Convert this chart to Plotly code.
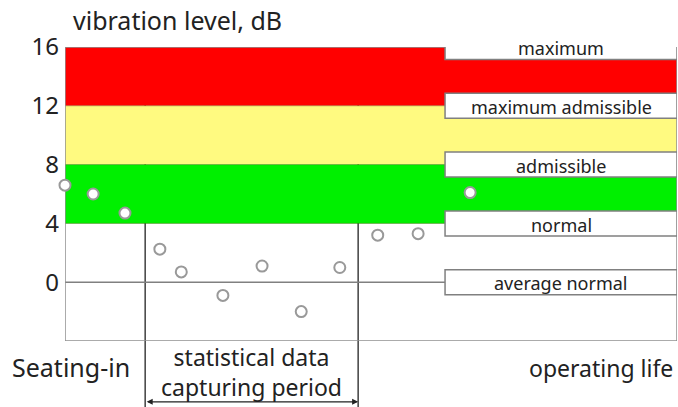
import plotly.graph_objects as go

# Data
time_pts = [0.0, 4.6, 9.8, 15.5, 19.0, 25.8, 32.2, 38.6, 44.9, 51.1, 57.7, 66.2]
vib_db = [6.6, 6.0, 4.7, 2.25, 0.7, -0.9, 1.1, -2.0, 1.0, 3.2, 3.3, 6.1]
level_values = [16, 12, 8, 4, 0]
level_labels = ["maximum", "maximum admissible", "admissible", "normal", "average normal"]
band_ranges = [(12, 16), (8, 12), (4, 8)]
band_colors = ["#ff0000", "#fffa80", "#00f000"]
tick_vals = [0, 4, 8, 12, 16]
tick_text = ["0", "4", "8", "12", "16"]
period_bounds = [13.1, 47.9]

FONT = "Noto Sans"
fig = go.Figure()

shapes = []
for (y0, y1), c in zip(band_ranges, band_colors):
    shapes.append(dict(type="rect", xref="x", yref="y", x0=0, x1=100, y0=y0, y1=y1,
                       fillcolor=c, line=dict(width=0), layer="below"))
for yv in [12, 8, 4]:
    shapes.append(dict(type="line", xref="x", yref="y", x0=0, x1=100, y0=yv, y1=yv,
                       line=dict(color="rgba(80,60,0,0.35)", width=1), layer="below"))
# zero line
shapes.append(dict(type="line", xref="x", yref="y", x0=0, x1=62.1, y0=0, y1=0,
                   line=dict(color="#808080", width=1.5), layer="below"))
# border
shapes.append(dict(type="rect", xref="x", yref="y", x0=0, x1=100, y0=-4, y1=16,
                   line=dict(color="#909090", width=1.5), layer="below"))
# period vertical lines
for xv in period_bounds:
    shapes.append(dict(type="line", xref="x", yref="paper", x0=xv, x1=xv, y0=-0.23, y1=1,
                       line=dict(color="#404040", width=1.5), layer="below"))
# label boxes
for yv in level_values:
    shapes.append(dict(type="rect", xref="x", yref="y", x0=62.1, x1=100, y0=yv - 0.85, y1=yv + 0.85,
                       fillcolor="white", line=dict(color="#808080", width=1.5), layer="above"))
fig.update_layout(shapes=shapes)

fig.add_trace(go.Scatter(x=time_pts, y=vib_db, mode="markers", cliponaxis=False,
                         marker=dict(size=11, color="white", line=dict(color="#999999", width=2)),
                         showlegend=False, hoverinfo="skip"))

TXT = "#222"
ann = []
for yv, lab in zip(level_values, level_labels):
    ann.append(dict(x=81.05, y=yv - 0.08, xref="x", yref="y", text=lab, showarrow=False,
                    font=dict(family=FONT, size=18, color=TXT)))
ann.append(dict(x=-0.0899, y=-0.088, xref="paper", yref="paper", xanchor="left", yanchor="middle",
                text="Seating-in", showarrow=False, font=dict(family=FONT, size=25, color=TXT)))
ann.append(dict(x=0.304, y=-0.105, xref="paper", yref="paper", xanchor="center", yanchor="middle",
                text="statistical data<br>capturing period", showarrow=False,
                font=dict(family=FONT, size=23, color=TXT)))
ann.append(dict(x=0.997, y=-0.092, xref="paper", yref="paper", xanchor="right", yanchor="middle",
                text="operating life", showarrow=False, font=dict(family=FONT, size=23, color=TXT)))
ann.append(dict(x=0.010, y=1.092, xref="paper", yref="paper", xanchor="left", yanchor="middle",
                text="vibration level, dB", showarrow=False, font=dict(family=FONT, size=25, color=TXT)))
# double arrow
ann.append(dict(x=period_bounds[1], y=-0.207, xref="x", yref="paper",
                ax=period_bounds[0], ay=0, axref="x", ayref="pixel",
                text="", showarrow=True, arrowside="end+start", arrowhead=2,
                arrowsize=1, arrowwidth=1.2, arrowcolor=TXT))
fig.update_layout(annotations=ann)

fig.update_layout(
    width=678, height=407,
    margin=dict(l=65, r=1, t=47, b=66),
    paper_bgcolor="white", plot_bgcolor="white",
    xaxis=dict(range=[0, 100], showgrid=False, zeroline=False, showticklabels=False, ticks="",
               showline=False),
    yaxis=dict(range=[-4, 16], showgrid=False, zeroline=False, tickvals=tick_vals, ticktext=tick_text,
               ticks="", ticklen=0, showline=False, automargin=False, ticklabelstandoff=5,
               tickfont=dict(family=FONT, size=24, color=TXT)),
)
fig.write_html("out.html", config={"displayModeBar": False},
               post_script="document.body.style.margin='0';document.body.style.overflow='hidden';")
